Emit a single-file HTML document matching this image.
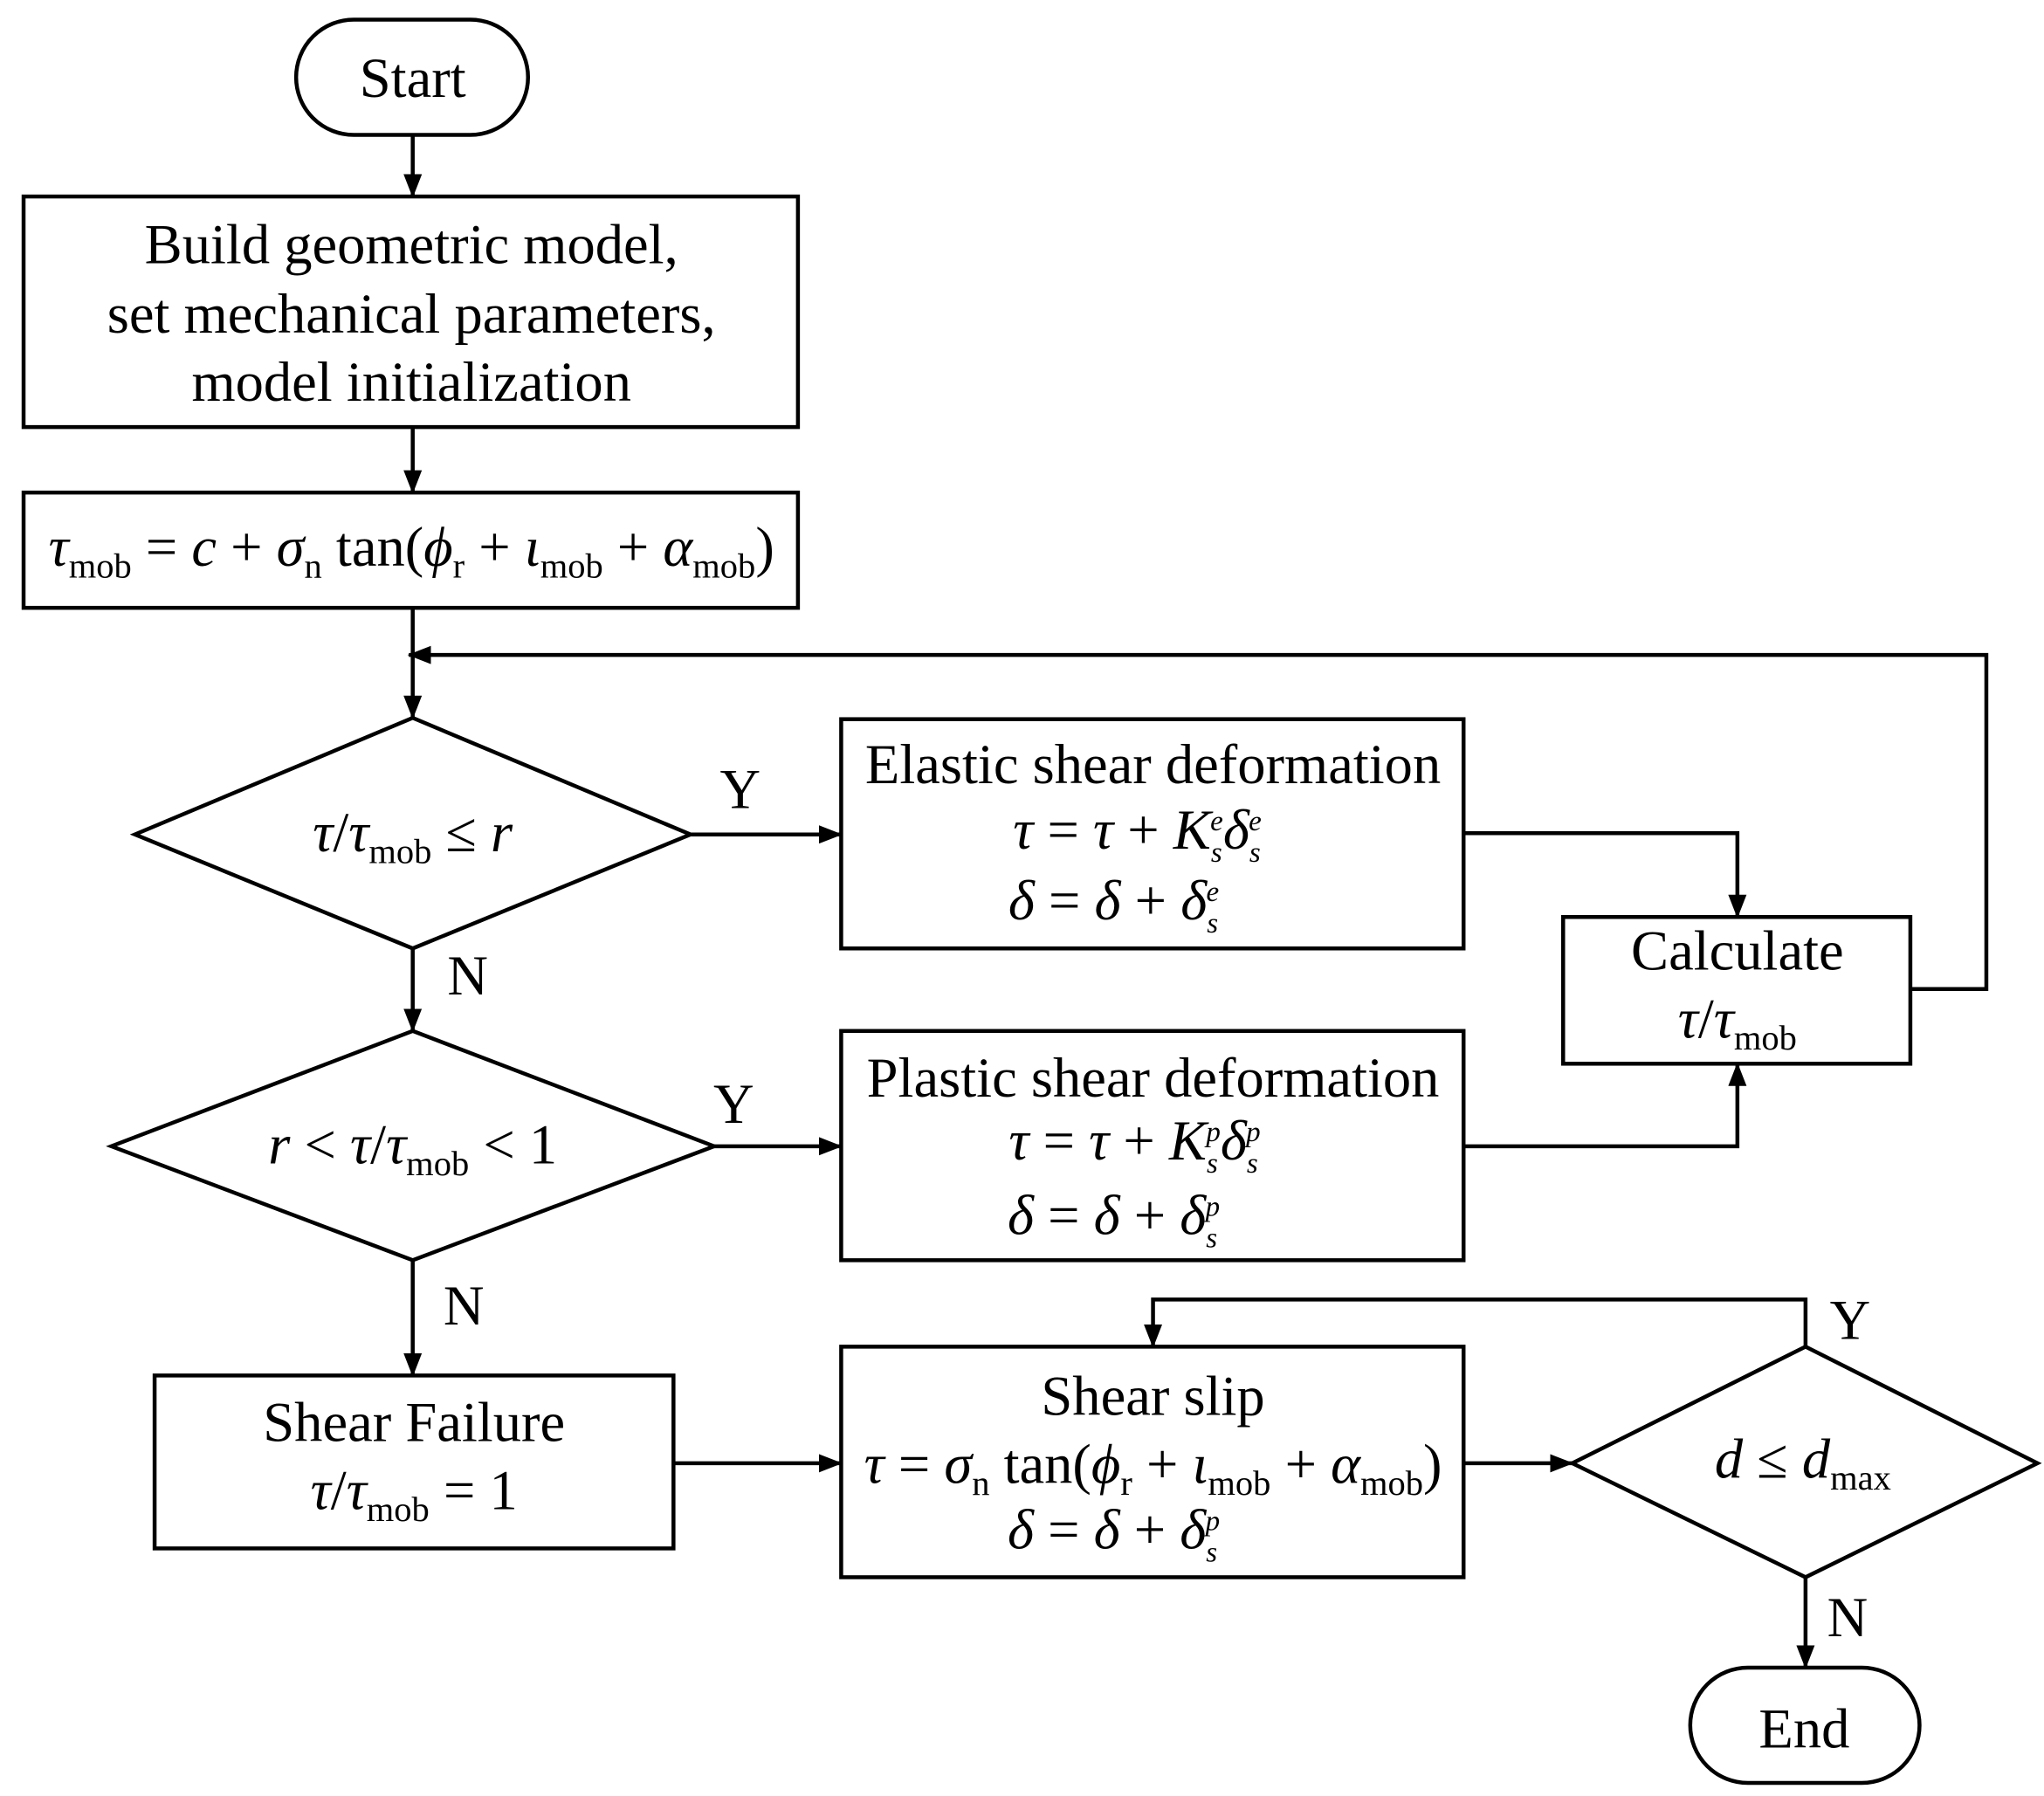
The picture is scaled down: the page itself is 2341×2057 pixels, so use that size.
<!DOCTYPE html>
<html><head><meta charset="utf-8">
<style>
html,body{margin:0;padding:0;background:#fff;}
svg{display:block;}
text{font-family:"Liberation Serif",serif;fill:#000;}
</style></head>
<body>
<svg width="2341" height="2057" viewBox="0 0 1560 1371" preserveAspectRatio="none" xmlns="http://www.w3.org/2000/svg">
<defs>
<marker id="b" markerWidth="18" markerHeight="14" refX="17" refY="7" orient="auto" markerUnits="userSpaceOnUse" viewBox="0 0 18 14">
<path d="M0,0 L18,7 L0,14 z" fill="#000"/>
</marker>
</defs>
<g fill="none" stroke="#000" stroke-width="3">
<rect x="226" y="15" width="177" height="88" rx="44"/>
<rect x="18" y="150" width="591" height="176"/>
<rect x="18" y="376" width="591" height="88"/>
<polygon points="315,548 527,637 315,724 103,637"/>
<polygon points="315,787 545,875 315,962 85,875"/>
<rect x="642" y="549" width="475" height="175"/>
<rect x="642" y="787" width="475" height="175"/>
<rect x="1193" y="700" width="265" height="112"/>
<rect x="118" y="1050" width="396" height="132"/>
<rect x="642" y="1028" width="475" height="176"/>
<polygon points="1378,1028 1555,1117 1378,1204 1200,1117"/>
<rect x="1290" y="1273" width="175" height="88" rx="44"/>
</g>
<g fill="none" stroke="#000" stroke-width="3" marker-end="url(#b)">
<line x1="315" y1="103" x2="315" y2="150"/>
<line x1="315" y1="326" x2="315" y2="376"/>
<line x1="315" y1="464" x2="315" y2="548"/>
<polyline points="1458,755 1516,755 1516,500 312,500"/>
<line x1="527" y1="637" x2="642" y2="637"/>
<polyline points="1117,636 1326,636 1326,700"/>
<line x1="315" y1="724" x2="315" y2="787"/>
<line x1="545" y1="875" x2="642" y2="875"/>
<polyline points="1117,875 1326,875 1326,812"/>
<line x1="315" y1="962" x2="315" y2="1050"/>
<line x1="514" y1="1117" x2="642" y2="1117"/>
<line x1="1117" y1="1117" x2="1200" y2="1117"/>
<polyline points="1378,1028 1378,992 880,992 880,1028"/>
<line x1="1378" y1="1204" x2="1378" y2="1273"/>
</g>
<g font-size="43" text-anchor="middle">
<text x="315" y="74">Start</text>
<text x="314" y="201">Build geometric model,</text>
<text x="314" y="254">set mechanical parameters,</text>
<text x="314" y="306">model initialization</text>
<text x="314" y="432"><tspan font-style="italic">τ</tspan><tspan font-size="27" dy="9">mob</tspan><tspan dy="-9"> = </tspan><tspan font-style="italic">c</tspan> + <tspan font-style="italic">σ</tspan><tspan font-size="27" dy="9">n</tspan><tspan dy="-9"> tan(</tspan><tspan font-style="italic">ϕ</tspan><tspan font-size="27" dy="9">r</tspan><tspan dy="-9"> + </tspan><tspan font-style="italic">ι</tspan><tspan font-size="27" dy="9">mob</tspan><tspan dy="-9"> + </tspan><tspan font-style="italic">α</tspan><tspan font-size="27" dy="9">mob</tspan><tspan dy="-9">)</tspan></text>
<text x="315" y="650"><tspan font-style="italic">τ</tspan>/<tspan font-style="italic">τ</tspan><tspan font-size="27" dy="9">mob</tspan><tspan dy="-9"> ≤ </tspan><tspan font-style="italic">r</tspan></text>
<text x="315" y="888"><tspan font-style="italic">r</tspan> &lt; <tspan font-style="italic">τ</tspan>/<tspan font-style="italic">τ</tspan><tspan font-size="27" dy="9">mob</tspan><tspan dy="-9"> &lt; 1</tspan></text>
<text x="880" y="598">Elastic shear deformation</text>
<text x="868" y="648"><tspan font-style="italic">τ</tspan> = <tspan font-style="italic">τ</tspan> + <tspan font-style="italic">K</tspan><tspan font-size="22" font-style="italic" dy="10">s</tspan><tspan font-size="22" font-style="italic" dy="-24" dx="-9">e</tspan><tspan font-style="italic" dy="14">δ</tspan><tspan font-size="22" font-style="italic" dy="10">s</tspan><tspan font-size="22" font-style="italic" dy="-24" dx="-9">e</tspan></text>
<text x="850" y="702"><tspan font-style="italic">δ</tspan> = <tspan font-style="italic">δ</tspan> + <tspan font-style="italic">δ</tspan><tspan font-size="22" font-style="italic" dy="10">s</tspan><tspan font-size="22" font-style="italic" dy="-24" dx="-9">e</tspan></text>
<text x="880" y="837">Plastic shear deformation</text>
<text x="866" y="885"><tspan font-style="italic">τ</tspan> = <tspan font-style="italic">τ</tspan> + <tspan font-style="italic">K</tspan><tspan font-size="22" font-style="italic" dy="10">s</tspan><tspan font-size="22" font-style="italic" dy="-24" dx="-9">p</tspan><tspan font-style="italic" dy="14">δ</tspan><tspan font-size="22" font-style="italic" dy="10">s</tspan><tspan font-size="22" font-style="italic" dy="-24" dx="-9">p</tspan></text>
<text x="850" y="942"><tspan font-style="italic">δ</tspan> = <tspan font-style="italic">δ</tspan> + <tspan font-style="italic">δ</tspan><tspan font-size="22" font-style="italic" dy="10">s</tspan><tspan font-size="22" font-style="italic" dy="-24" dx="-9">p</tspan></text>
<text x="1326" y="740">Calculate</text>
<text x="1326" y="792"><tspan font-style="italic">τ</tspan>/<tspan font-style="italic">τ</tspan><tspan font-size="27" dy="9">mob</tspan></text>
<text x="316" y="1100">Shear Failure</text>
<text x="316" y="1152"><tspan font-style="italic">τ</tspan>/<tspan font-style="italic">τ</tspan><tspan font-size="27" dy="9">mob</tspan><tspan dy="-9"> = 1</tspan></text>
<text x="880" y="1080">Shear slip</text>
<text x="880" y="1132"><tspan font-style="italic">τ</tspan> = <tspan font-style="italic">σ</tspan><tspan font-size="27" dy="9">n</tspan><tspan dy="-9"> tan(</tspan><tspan font-style="italic">ϕ</tspan><tspan font-size="27" dy="9">r</tspan><tspan dy="-9"> + </tspan><tspan font-style="italic">ι</tspan><tspan font-size="27" dy="9">mob</tspan><tspan dy="-9"> + </tspan><tspan font-style="italic">α</tspan><tspan font-size="27" dy="9">mob</tspan><tspan dy="-9">)</tspan></text>
<text x="850" y="1182"><tspan font-style="italic">δ</tspan> = <tspan font-style="italic">δ</tspan> + <tspan font-style="italic">δ</tspan><tspan font-size="22" font-style="italic" dy="10">s</tspan><tspan font-size="22" font-style="italic" dy="-24" dx="-9">p</tspan></text>
<text x="1376" y="1128"><tspan font-style="italic">d</tspan> ≤ <tspan font-style="italic">d</tspan><tspan font-size="27" dy="9">max</tspan></text>
<text x="1377" y="1334">End</text>
<text x="565" y="617">Y</text>
<text x="357" y="759">N</text>
<text x="560" y="857">Y</text>
<text x="354" y="1011">N</text>
<text x="1412" y="1022">Y</text>
<text x="1410" y="1249">N</text>
</g>
</svg>
</body></html>
